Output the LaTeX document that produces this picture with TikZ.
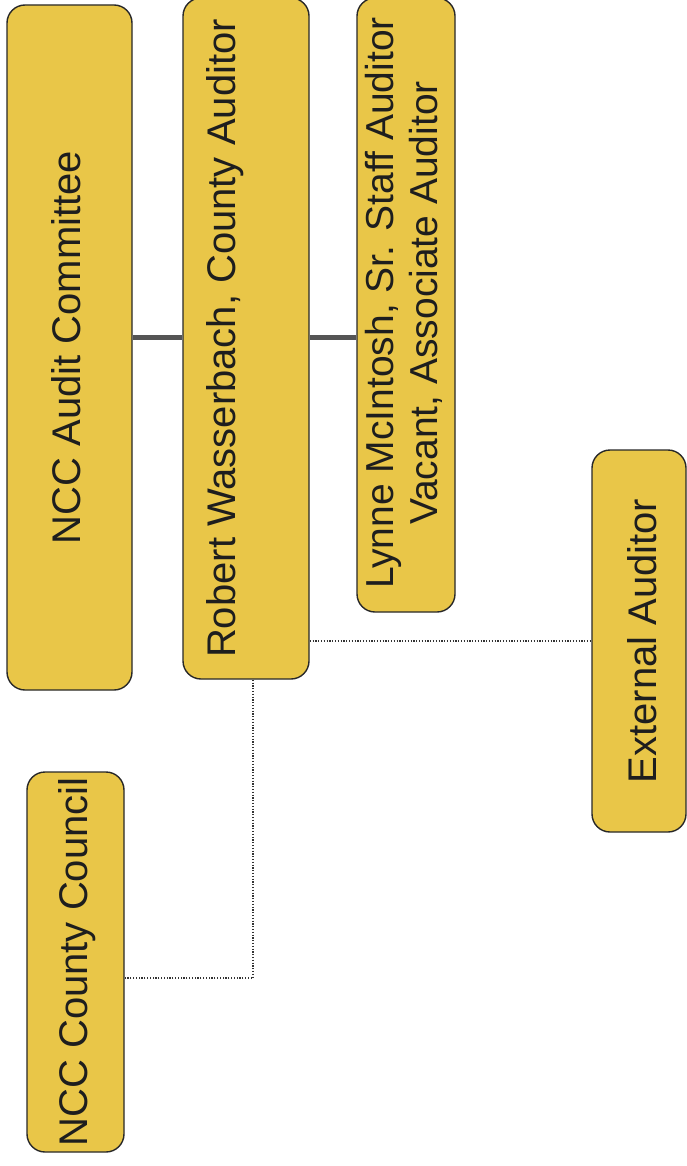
\documentclass[tikz,border=0pt]{standalone}
\usepackage{fontspec}
\setmainfont{Liberation Sans}
\definecolor{boxfill}{RGB}{233,198,72}
\definecolor{boxline}{RGB}{40,40,40}
\definecolor{solidline}{RGB}{85,85,85}
\definecolor{txt}{RGB}{30,30,30}
\begin{document}
\begin{tikzpicture}[x=1pt,y=-1pt,
  orgbox/.style={draw=boxline,line width=1.4pt,fill=boxfill,rounded corners=18pt,inner sep=0pt},
  orgtext/.style={rotate=90,text=txt,font=\fontsize{40}{46}\selectfont,align=center,inner sep=0pt},
  solidlink/.style={draw=solidline,line width=5pt},
  dotlink/.style={draw=black!80,line width=1.3pt,dash pattern=on 1.2pt off 1.6pt}]
\useasboundingbox (0,0) rectangle (686,1166);
% boxes
\node[orgbox,minimum width=125pt,minimum height=685pt] (committee) at (69.5,347.5) {};
\node[orgbox,minimum width=126pt,minimum height=681pt] (robert) at (246,338.5) {};
\node[orgbox,minimum width=98pt,minimum height=614pt] (lynne) at (406,305) {};
\node[orgbox,minimum width=94pt,minimum height=382pt] (external) at (639,641) {};
\node[orgbox,minimum width=97pt,minimum height=380pt] (council) at (75.5,962) {};
% texts
\node[orgtext] (tcommittee) at (66,347.5) {NCC Audit Committee};
\node[orgtext] (trobert) at (225,338.5) {Robert Wasserbach, County Auditor};
\node[orgtext,font=\fontsize{39}{44}\selectfont] (tlynne) at (404,303) {Lynne McIntosh, Sr. Staff Auditor\\Vacant, Associate Auditor};
\node[orgtext] (texternal) at (642,641) {External Auditor};
\node[orgtext] (tcouncil) at (77,962) {NCC County Council};
% connectors
\coordinate (solidy) at (0,337);
\draw[solidlink] (committee.east |- solidy) -- (robert.west |- solidy);
\draw[solidlink] (robert.east |- solidy) -- (lynne.west |- solidy);
\coordinate (dropx) at (253,0);
\coordinate (councily) at (0,978);
\coordinate (exty) at (0,641);
\draw[dotlink] (robert.south -| dropx) -- (dropx |- councily) -- (council.east |- councily);
\draw[dotlink] (robert.east |- exty) -- (external.west |- exty);
\end{tikzpicture}
\end{document}
